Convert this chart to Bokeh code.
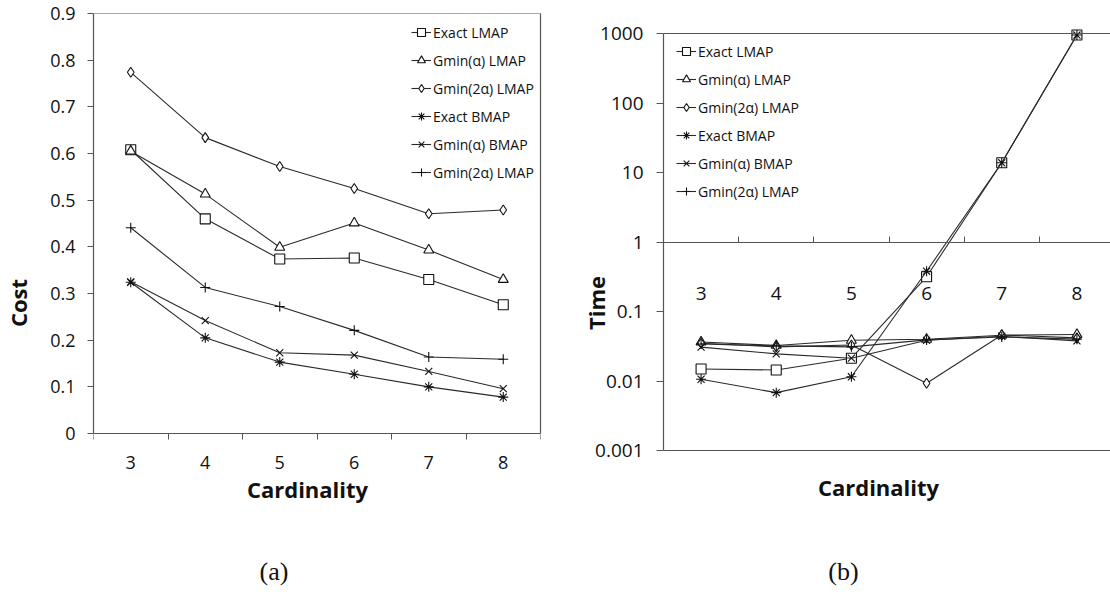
from bokeh.plotting import figure
from bokeh.models import (Range1d, FixedTicker, CustomJSTickFormatter, Span, Legend,
                          LegendItem, LinearAxis)
from bokeh.layouts import row
from bokeh.embed import file_html
from bokeh.resources import INLINE

# ---------------- data ----------------
cardinality = [3, 4, 5, 6, 7, 8]
series_names = ["Exact LMAP", "Gmin(α) LMAP", "Gmin(2α) LMAP",
                "Exact BMAP", "Gmin(α) BMAP", "Gmin(2α) LMAP"]
series_markers = ["square", "triangle", "diamond", "asterisk", "x", "cross"]

# (a) cost
cost_exact_lmap = [0.608, 0.460, 0.374, 0.376, 0.330, 0.276]
cost_gmin_a_lmap = [0.605, 0.513, 0.399, 0.451, 0.393, 0.330]
cost_gmin_2a_lmap = [0.774, 0.634, 0.572, 0.525, 0.471, 0.479]
cost_exact_bmap = [0.324, 0.205, 0.153, 0.127, 0.100, 0.078]
cost_gmin_a_bmap = [0.325, 0.242, 0.173, 0.168, 0.133, 0.096]
cost_gmin_2a_lmap_b = [0.441, 0.313, 0.272, 0.221, 0.164, 0.159]
cost_ticks = [0, 0.1, 0.2, 0.3, 0.4, 0.5, 0.6, 0.7, 0.8, 0.9]

# (b) time
time_exact_lmap = [0.0149, 0.0144, 0.0213, 0.316, 13.8, 950]
time_gmin_a_lmap = [0.0364, 0.0325, 0.0385, 0.0398, 0.0456, 0.0467]
time_gmin_2a_lmap = [0.0350, 0.0310, 0.0330, 0.0093, 0.0460, 0.0417]
time_exact_bmap = [0.0106, 0.0068, 0.0115, 0.38, 13.8, 950]
time_gmin_a_bmap = [0.0307, 0.0246, 0.0213, 0.0385, 0.0440, 0.0378]
time_gmin_2a_lmap_b = [0.0340, 0.0320, 0.0310, 0.0390, 0.0430, 0.0400]
time_ticks = [0.001, 0.01, 0.1, 1, 10, 100, 1000]

cost_series = [cost_exact_lmap, cost_gmin_a_lmap, cost_gmin_2a_lmap,
               cost_exact_bmap, cost_gmin_a_bmap, cost_gmin_2a_lmap_b]
time_series = [time_exact_lmap, time_gmin_a_lmap, time_gmin_2a_lmap,
               time_exact_bmap, time_gmin_a_bmap, time_gmin_2a_lmap_b]

boundaries = [c - 0.5 for c in cardinality] + [cardinality[-1] + 0.5]

# ---------------- layout constants (pixels) ----------------
FRAME_TOP = 13                              # shared frame top of both figures
A_LEFT, A_RIGHT, A_ZERO = 89, 540, 433      # (a): y-axis, right border, y=0 line
B_LEFT, B_TOP, B_BOTTOM = 663, 33, 450      # (b): y-axis, y=1000 line, y=0.001 line
W1, W2, H = 562, 548, 592

TICK_FONT = "Open Sans"
AX_COLOR = "#555555"
LINE_COLOR = "#2a2a2a"
TXT = "#111111"


def style_common(p):
    p.xgrid.grid_line_color = None
    p.ygrid.grid_line_color = None
    p.background_fill_color = "white"
    p.border_fill_color = "white"
    p.outline_line_color = None


def add_series(p, ys_list, legend):
    items = []
    for name, marker, ys in zip(series_names, series_markers, ys_list):
        r1 = p.line(cardinality, ys, line_color=LINE_COLOR, line_width=1.1)
        r2 = p.scatter(cardinality, ys, marker=marker, size=10,
                       line_color=TXT, fill_color="white", line_width=1.1)
        items.append(LegendItem(label=name, renderers=[r1, r2]))
    legend.items = items


def make_legend(x, y):
    return Legend(location=(x, y), label_text_font=TICK_FONT,
                  label_text_font_size="14px", label_text_color=TXT,
                  background_fill_alpha=0, border_line_color=None,
                  glyph_width=20, glyph_height=20, label_height=20,
                  spacing=8, padding=5, label_standoff=2, margin=0)


def text_axis(p, loc, lo, hi, text, standoff, font, size, style):
    ax = LinearAxis(fixed_location=loc, bounds=(lo, hi),
                    ticker=FixedTicker(ticks=[], minor_ticks=[]),
                    axis_line_color=None, major_tick_out=0, major_tick_in=0,
                    minor_tick_out=0, minor_tick_in=0, major_label_standoff=0,
                    axis_label=text, axis_label_standoff=standoff,
                    axis_label_text_font=font, axis_label_text_font_size=size,
                    axis_label_text_font_style=style, axis_label_text_color=TXT)
    p.add_layout(ax, "below")


# ---------------- (a) ----------------
a_px = (A_ZERO - FRAME_TOP) / cost_ticks[-1]
a_y0 = -(H - A_ZERO) / a_px
a_xpx = (A_RIGHT - A_LEFT) / (boundaries[-1] - boundaries[0])

p1 = figure(width=W1, height=H, x_range=Range1d(boundaries[0], boundaries[-1]),
            y_range=Range1d(a_y0, cost_ticks[-1]),
            output_backend="svg", toolbar_location=None,
            min_border_left=A_LEFT, min_border_right=W1 - A_RIGHT,
            min_border_top=FRAME_TOP, min_border_bottom=0)
style_common(p1)

lg1 = make_legend(318, 394 + (H - 576))
p1.add_layout(lg1)
add_series(p1, cost_series, lg1)

p1.add_layout(Span(location=cost_ticks[-1], dimension="width", line_color=AX_COLOR, line_width=1.2))
rb = LinearAxis(bounds=(cost_ticks[0], cost_ticks[-1]), ticker=FixedTicker(ticks=[], minor_ticks=[]),
                axis_line_color=AX_COLOR, axis_line_width=1.2, major_tick_out=0, major_tick_in=0,
                minor_tick_out=0, minor_tick_in=0, major_label_standoff=0)
p1.add_layout(rb, "right")

xa = p1.xaxis[0]
xa.fixed_location = 0
xa.ticker = FixedTicker(ticks=cardinality, minor_ticks=boundaries)
xa.major_tick_out = 0
xa.major_tick_in = 0
xa.minor_tick_out = 6
xa.minor_tick_in = 0
xa.minor_tick_line_color = AX_COLOR
xa.axis_line_color = AX_COLOR
xa.axis_line_width = 1.2
xa.major_label_text_font = TICK_FONT
xa.major_label_text_font_size = "18px"
xa.major_label_text_color = TXT
xa.major_label_standoff = 16

ya = p1.yaxis[0]
ya.bounds = (cost_ticks[0], cost_ticks[-1])
ya.ticker = FixedTicker(ticks=cost_ticks, minor_ticks=[])
ya.formatter = CustomJSTickFormatter(code="return tick == 0 ? '0' : tick.toFixed(1);")
ya.major_tick_out = 6
ya.major_tick_in = 0
ya.major_tick_line_color = AX_COLOR
ya.axis_line_color = AX_COLOR
ya.axis_line_width = 1.2
ya.major_label_text_font = TICK_FONT
ya.major_label_text_font_size = "18px"
ya.major_label_text_color = TXT
ya.major_label_standoff = 12
ya.axis_label = "Cost"
ya.axis_label_text_font = TICK_FONT
ya.axis_label_text_font_style = "bold"
ya.axis_label_text_font_size = "22px"
ya.axis_label_text_color = TXT
ya.axis_label_standoff = 14


def a_bounds(cx):
    mid = boundaries[0] + (cx - A_LEFT) / a_xpx
    return boundaries[0], 2 * mid - boundaries[0]

lo, hi = a_bounds(305)
text_axis(p1, 0, lo, hi, "Cardinality", 40, TICK_FONT, "22px", "bold")
lo, hi = a_bounds(271)
text_axis(p1, 0, lo, hi, "(a)", 123, "Liberation Serif", "26px", "normal")

# ---------------- (b) ----------------
b_decade = (B_BOTTOM - B_TOP) / 6.0
b_top = time_ticks[-1] * 10 ** ((B_TOP - FRAME_TOP) / b_decade)
b_bottom = time_ticks[0] / 10 ** ((H - B_BOTTOM) / b_decade)
b_xpx = a_xpx
b_xend = boundaries[0] + (W2 - (B_LEFT - W1)) / b_xpx

p2 = figure(width=W2, height=H, x_range=Range1d(boundaries[0], b_xend),
            y_range=Range1d(b_bottom, b_top), y_axis_type="log",
            output_backend="svg", toolbar_location=None,
            min_border_left=B_LEFT - W1, min_border_right=0,
            min_border_top=FRAME_TOP, min_border_bottom=0)
style_common(p2)

lg2 = make_legend(13, 375 + (H - 576))
p2.add_layout(lg2)
add_series(p2, time_series, lg2)

p2.add_layout(Span(location=time_ticks[-1], dimension="width", line_color=AX_COLOR, line_width=1.2))
p2.add_layout(Span(location=time_ticks[0], dimension="width", line_color=AX_COLOR, line_width=1.2))

xb = p2.xaxis[0]
xb.fixed_location = 1
xb.ticker = FixedTicker(ticks=cardinality, minor_ticks=boundaries)
xb.major_tick_out = 0
xb.major_tick_in = 0
xb.minor_tick_out = 0
xb.minor_tick_in = 6
xb.minor_tick_line_color = AX_COLOR
xb.axis_line_color = AX_COLOR
xb.axis_line_width = 1.2
xb.major_label_text_font = TICK_FONT
xb.major_label_text_font_size = "19px"
xb.major_label_text_color = TXT
xb.major_label_standoff = 45

yb = p2.yaxis[0]
yb.bounds = (time_ticks[0], time_ticks[-1])
yb.ticker = FixedTicker(ticks=time_ticks, minor_ticks=[])
yb.formatter = CustomJSTickFormatter(code="return String(Number(tick.toPrecision(3)));")
yb.major_tick_out = 7
yb.major_tick_in = 0
yb.minor_tick_out = 0
yb.minor_tick_in = 0
yb.major_tick_line_color = AX_COLOR
yb.axis_line_color = AX_COLOR
yb.axis_line_width = 1.2
yb.major_label_text_font = TICK_FONT
yb.major_label_text_font_size = "19px"
yb.major_label_text_color = TXT
yb.major_label_standoff = 13
yb.axis_label = "Time"
yb.axis_label_text_font = TICK_FONT
yb.axis_label_text_font_style = "bold"
yb.axis_label_text_font_size = "22px"
yb.axis_label_text_color = TXT
yb.axis_label_standoff = -19


def b_bounds(cx):
    mid = boundaries[0] + (cx - B_LEFT) / b_xpx
    return boundaries[0], 2 * mid - boundaries[0]

lo, hi = b_bounds(878)
text_axis(p2, time_ticks[0], lo, hi, "Cardinality", 21, TICK_FONT, "22px", "bold")
lo, hi = b_bounds(843)
text_axis(p2, time_ticks[0], lo, hi, "(b)", 106, "Liberation Serif", "26px", "normal")

layout = row(p1, p2, spacing=0)
open("out.html", "w").write(file_html(layout, INLINE))
